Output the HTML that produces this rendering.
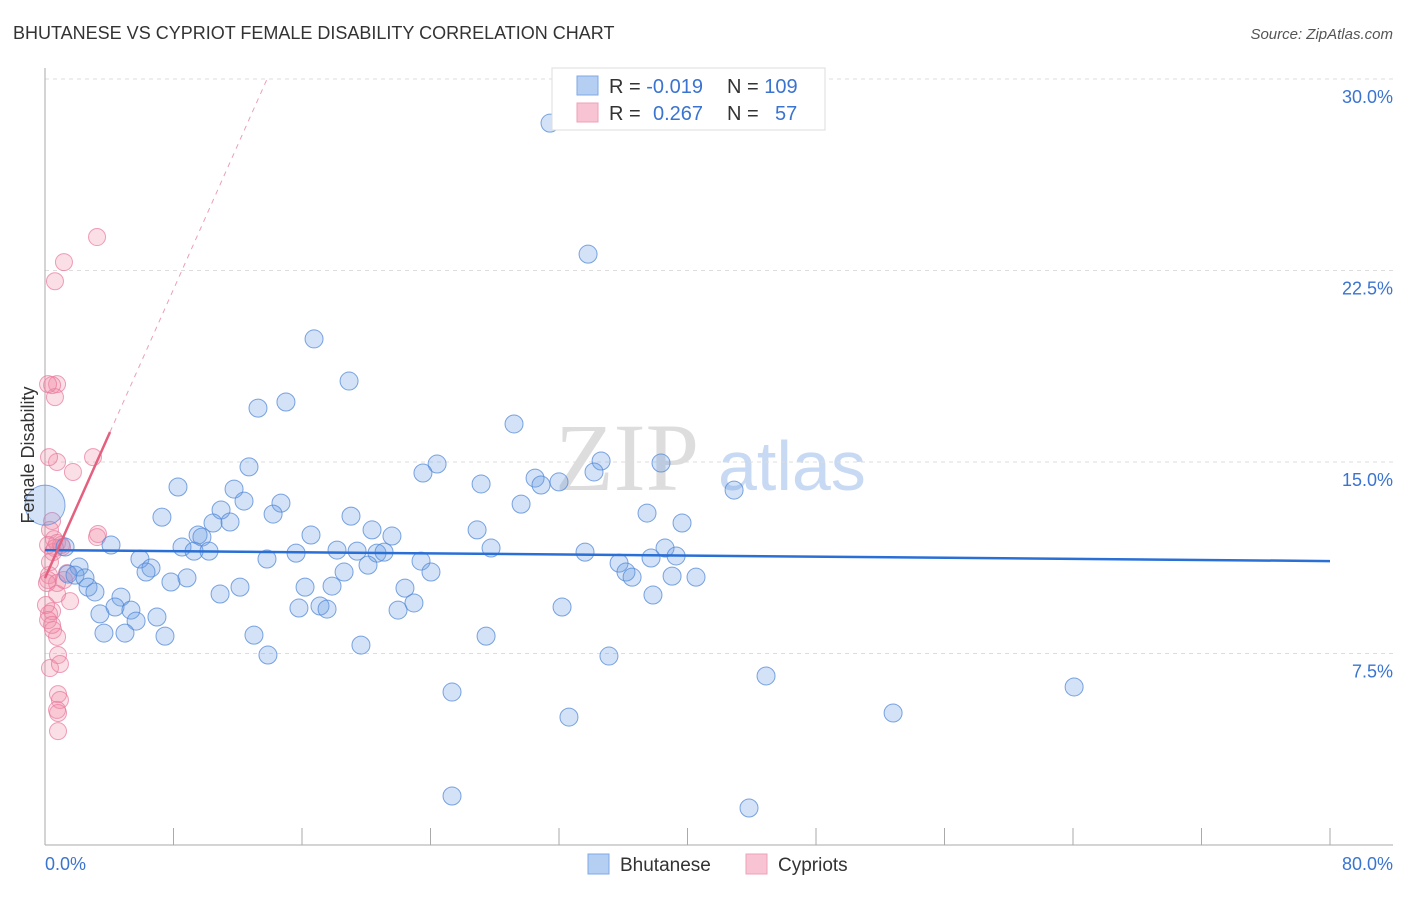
<!DOCTYPE html>
<html><head><meta charset="utf-8"><style>
body{margin:0;background:#fff;font-family:"Liberation Sans",sans-serif}
</style></head><body>
<svg width="1406" height="892" xmlns="http://www.w3.org/2000/svg" font-family="Liberation Sans, sans-serif">
<text x="13" y="39" font-size="18" fill="#333">BHUTANESE VS CYPRIOT FEMALE DISABILITY CORRELATION CHART</text>
<text x="1393" y="39" font-size="15" fill="#555" text-anchor="end" font-style="italic">Source: ZipAtlas.com</text>
<text x="555" y="490" font-size="96" fill="#ddd" font-family="Liberation Serif, serif">ZIP</text>
<text x="718" y="490" font-size="70" fill="#c8daf3">atlas</text>
<g id="grid"></g>
<g id="axes"></g>
<g id="marks"></g>
<text transform="translate(34,455) rotate(-90)" font-size="18" fill="#333" text-anchor="middle">Female Disability</text>
<g>
<rect x="552" y="68" width="273" height="62" fill="#fff" stroke="#ddd"/>
<rect x="577" y="76" width="21" height="19" fill="#b5cff3" stroke="#7ea8e4"/>
<rect x="577" y="103" width="21" height="19" fill="#f8c3d3" stroke="#eea3b9"/>
<text x="609" y="93" font-size="20" fill="#333">R = <tspan fill="#3a74d0">-0.019</tspan></text>
<text x="727" y="93" font-size="20" fill="#333">N = <tspan fill="#3a74d0">109</tspan></text>
<text x="609" y="120" font-size="20" fill="#333">R = <tspan fill="#3a74d0" x="653">0.267</tspan></text>
<text x="727" y="120" font-size="20" fill="#333">N = <tspan fill="#3a74d0" x="775">57</tspan></text>
</g>
<g>
<rect x="588" y="854" width="21" height="20" fill="#b5cff3" stroke="#7ea8e4"/>
<text x="620" y="871" font-size="19" fill="#333">Bhutanese</text>
<rect x="746" y="854" width="21" height="20" fill="#f8c3d3" stroke="#eea3b9"/>
<text x="778" y="871" font-size="19" fill="#333">Cypriots</text>
</g>
</svg>
<script>
const blueX=[31.44,33.81,16.75,18.93,13.26,15.00,29.20,12.70,24.41,23.53,34.62,34.18,38.35,27.15,30.51,30.88,32.00,42.90,8.28,11.77,10.96,12.39,14.69,29.64,7.28,10.46,11.52,14.20,19.05,20.36,26.90,37.48,39.66,21.60,16.56,9.53,9.77,8.53,9.28,10.21,4.11,1.25,13.82,15.63,18.18,19.43,20.67,21.11,20.11,23.41,27.77,33.62,38.60,39.29,35.74,37.73,5.91,6.60,6.29,2.12,1.43,1.87,2.49,2.68,7.84,8.84,12.14,18.62,24.03,36.17,36.55,39.04,40.53,16.19,17.87,22.41,10.90,3.11,4.73,4.36,5.35,15.81,17.12,17.56,22.97,21.98,32.19,37.85,3.42,6.97,5.67,3.67,4.98,7.47,13.01,27.46,19.67,13.88,35.11,44.89,64.07,25.34,52.80,32.62,25.34,43.83];
const blueY=[28.27,23.14,19.82,18.17,17.11,17.35,16.49,14.81,14.92,14.57,15.04,14.61,14.96,14.14,14.37,14.10,14.22,13.90,14.02,13.94,13.12,13.47,13.39,13.35,12.84,12.61,12.65,12.96,12.88,12.34,12.34,13.00,12.61,12.10,12.14,12.14,12.06,11.67,11.51,11.51,11.75,11.67,11.20,11.43,11.55,11.51,11.43,11.47,10.96,11.12,11.63,11.47,11.63,11.32,11.04,11.24,11.20,10.85,10.69,10.89,10.61,10.57,10.46,10.10,10.30,10.46,10.10,10.69,10.69,10.69,10.49,10.53,10.49,10.10,10.14,10.06,9.83,9.91,9.71,9.32,9.20,9.28,9.36,9.24,9.48,9.20,9.32,9.79,9.05,8.93,8.77,8.30,8.30,8.18,8.22,8.18,7.83,7.44,7.40,6.62,6.19,5.99,5.17,5.01,1.92,1.45];
const pinkX=[3.24,1.18,0.62,0.75,0.44,0.62,0.19,2.99,1.74,0.75,0.25,3.30,3.24,0.44,0.31,0.56,0.75,1.06,0.19,0.50,0.31,1.37,0.25,0.19,0.75,0.12,1.56,0.75,0.44,0.25,0.50,0.75,0.31,0.81,0.93,0.81,0.93,0.81,0.75,0.81,1.00,0.62,0.06,0.19,1.18,0.44];
const pinkY=[23.81,22.83,22.08,18.05,18.01,17.54,18.05,15.19,14.61,15.00,15.19,12.18,12.06,12.69,12.34,11.98,11.83,11.67,11.75,11.47,11.08,10.65,10.57,10.38,10.26,10.26,9.55,9.83,9.16,9.05,8.42,8.15,6.93,7.44,7.09,5.91,5.68,5.17,5.29,4.46,11.75,11.63,9.40,8.81,10.38,8.62];
const bigBlue=[0,13.31];
const blueTrend=[11.55,11.12];
const pinkTrend=[10.45,1.414];
const yTicks=[7.5,15,22.5,30];
const xTickVals=[0,8,16,24,32,40,48,56,64,72,80];
const NS='http://www.w3.org/2000/svg';
const X=v=>45+v/80*1285, Y=v=>845-v/30*766;
function mk(p,t,a){const e=document.createElementNS(NS,t);for(const k in a)e.setAttribute(k,a[k]);p.appendChild(e);return e;}
const grid=document.getElementById('grid'),axes=document.getElementById('axes'),marks=document.getElementById('marks');
yTicks.forEach(v=>{
 const l=mk(grid,'line',{x1:45,x2:1393,y1:Y(v),y2:Y(v),stroke:'#ddd','stroke-dasharray':'4,4'});
 
 
 const t=mk(grid,'text',{x:1393,y:Y(v)+24,'text-anchor':'end','font-size':18,fill:'#3a74d0'});
 t.textContent=v.toFixed(1)+'%';
 
 
});
mk(axes,'line',{x1:45,x2:45,y1:68,y2:845,stroke:'#aaa'});
mk(axes,'line',{x1:45,x2:1393,y1:845,y2:845,stroke:'#aaa'});
xTickVals.forEach(v=>{
 const l=mk(axes,'line',{x1:X(v),x2:X(v),y1:828,y2:845,stroke:'#aaa'});
 
 
});
const t0=mk(axes,'text',{x:45,y:870,'font-size':18,fill:'#3a74d0'});t0.textContent='0.0%';


const t1=mk(axes,'text',{x:1393,y:870,'font-size':18,fill:'#3a74d0','text-anchor':'end'});t1.textContent='80.0%';


pinkX.forEach((x,i)=>{
 const c=mk(marks,'circle',{cx:X(x),cy:Y(pinkY[i]),r:8.5,fill:'rgba(242,140,170,0.28)',stroke:'rgba(232,120,155,0.7)','stroke-width':1});
 
 
});
const bb=mk(marks,'circle',{cx:X(bigBlue[0]),cy:Y(bigBlue[1]),r:20,fill:'rgba(110,160,230,0.3)',stroke:'rgba(80,135,215,0.7)'});


blueX.forEach((x,i)=>{
 const c=mk(marks,'circle',{cx:X(x),cy:Y(blueY[i]),r:9,fill:'rgba(110,160,230,0.3)',stroke:'rgba(80,135,215,0.75)','stroke-width':1});
 
 
});
const bt=mk(marks,'line',{x1:X(0),x2:X(80),y1:Y(blueTrend[0]),y2:Y(blueTrend[1]),stroke:'#2a6fd6','stroke-width':2.5});


const xs=4.05, xe=(30-pinkTrend[0])/pinkTrend[1];
const pt=mk(marks,'line',{x1:X(0),x2:X(xs),y1:Y(pinkTrend[0]),y2:Y(pinkTrend[0]+pinkTrend[1]*xs),stroke:'#e4607f','stroke-width':2.5});


const pd=mk(marks,'line',{x1:X(xs),x2:X(xe),y1:Y(pinkTrend[0]+pinkTrend[1]*xs),y2:Y(30),stroke:'#eaa0b4','stroke-width':1,'stroke-dasharray':'5,5'});


</script>
</body></html>
